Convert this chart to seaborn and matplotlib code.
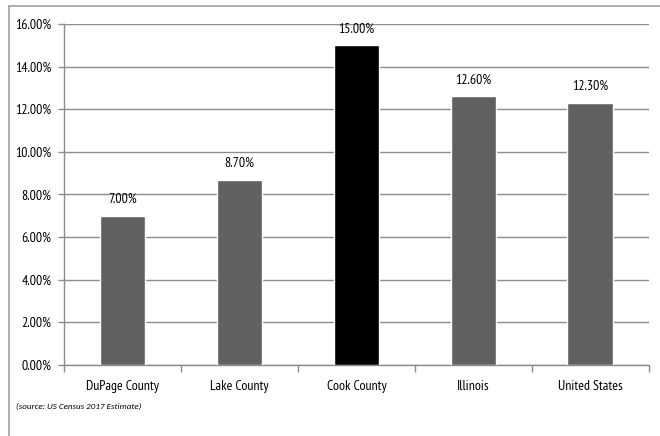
import matplotlib
matplotlib.use("Agg")
import matplotlib.pyplot as plt
import matplotlib.lines as mlines
import seaborn as sns
import numpy as np
from matplotlib.ticker import FixedLocator, PercentFormatter

categories = ["DuPage County", "Lake County", "Cook County", "Illinois", "United States"]
poverty_rate = [7.00, 8.70, 15.00, 12.60, 12.30]
bar_colors = ["#606060", "#606060", "#000000", "#606060", "#606060"]
y_ticks = [0, 2, 4, 6, 8, 10, 12, 14, 16]
source_note = "(source: US Census 2017 Estimate)"

sns.set_theme(style="white")
plt.rcParams["font.family"] = ["PT Sans Narrow", "Carlito", "DejaVu Sans"]

fig = plt.figure(figsize=(6.6, 4.36), dpi=100)
ax = fig.add_axes([0.097, 0.163, 0.886, 0.782])

sns.barplot(x=categories, y=poverty_rate, hue=categories, palette=bar_colors,
            width=0.39, legend=False, ax=ax, saturation=1, zorder=3)

ax.set_ylim(0, 16)
ax.set_xlim(-0.5, len(categories) - 0.5)
ax.yaxis.set_major_locator(FixedLocator(y_ticks))
ax.yaxis.set_major_formatter(PercentFormatter(decimals=2))
ax.grid(axis="y", color="#8c8c8c", linewidth=1.0, zorder=0)
ax.set_axisbelow(True)

for side in ["top", "right"]:
    ax.spines[side].set_visible(False)
for side in ["left", "bottom"]:
    ax.spines[side].set_color("#8c8c8c")
    ax.spines[side].set_linewidth(1.0)

# category ticks sit on the boundaries between bars
ax.xaxis.set_minor_locator(FixedLocator(np.arange(-0.5, len(categories), 1.0)))
ax.tick_params(axis="x", which="major", length=0, pad=11, labelsize=10, colors="#000000")
ax.tick_params(axis="x", which="minor", bottom=True, length=5, width=1.0, color="#8c8c8c")
ax.tick_params(axis="y", left=True, length=4, width=1.0, color="#8c8c8c",
               labelsize=10, colors="#000000", pad=5)
ax.set_xlabel("")
ax.set_ylabel("")

for i, v in enumerate(poverty_rate):
    ax.annotate(f"{v:.2f}%", (i, v), xytext=(0, 7), textcoords="offset points",
                ha="center", va="bottom", fontsize=10, color="#000000")

fig.text(16 / 660, 1 - 406 / 436, source_note, fontsize=6.5, style="italic",
         family=["Carlito", "DejaVu Sans"],
         ha="left", va="center", color="#000000")

# chart-area frame (top and left edges)
x0, y0 = 9 / 660, 1 - 6 / 436
fig.add_artist(mlines.Line2D([x0, 1.0], [y0, y0], transform=fig.transFigure,
                             color="#a0a0a0", linewidth=1.2))
fig.add_artist(mlines.Line2D([x0, x0], [y0, 0.0], transform=fig.transFigure,
                             color="#a0a0a0", linewidth=1.2))

fig.savefig("out.png", dpi=100)
